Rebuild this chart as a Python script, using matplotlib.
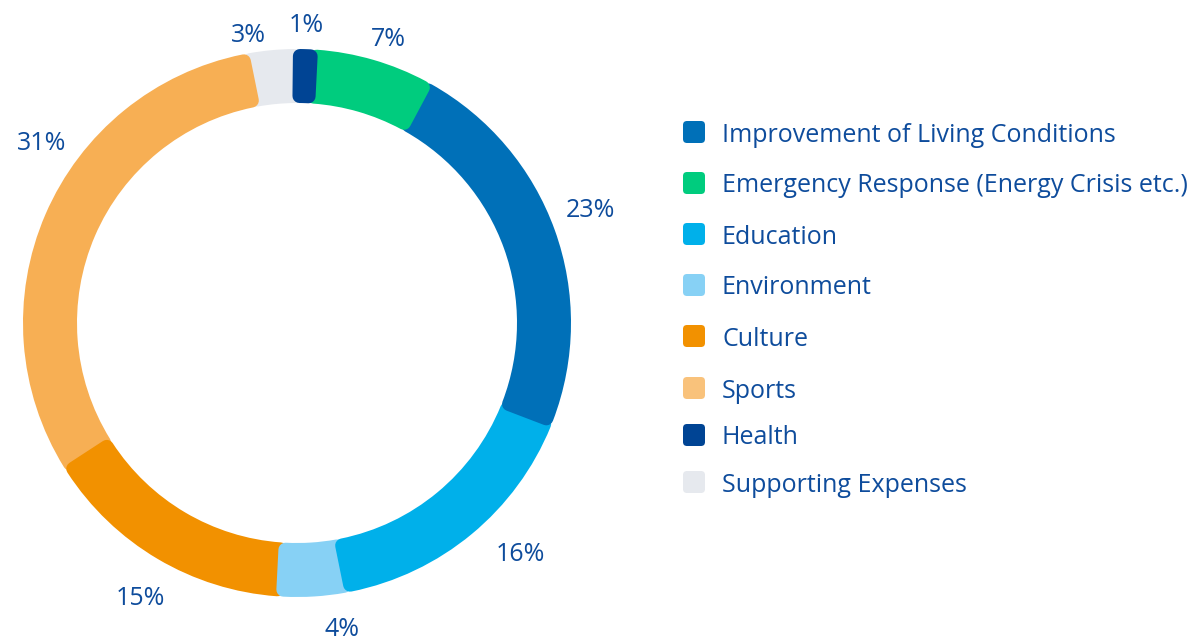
import numpy as np
import matplotlib.pyplot as plt
from matplotlib.patches import FancyBboxPatch

# data, clockwise from 12 o'clock
categories = ["Health", "Emergency Response (Energy Crisis etc.)", "Improvement of Living Conditions",
              "Education", "Environment", "Culture", "Sports", "Supporting Expenses"]
shares = [1, 7, 23, 16, 4, 15, 31, 3]
pct_labels = ["1%", "7%", "23%", "16%", "4%", "15%", "31%", "3%"]
ring_colors = ["#004494", "#00CC7E", "#0070B8", "#00B0EA", "#87D1F5", "#F29100", "#F7AF54", "#E6E9EE"]

legend_order = ["Improvement of Living Conditions", "Emergency Response (Energy Crisis etc.)", "Education",
                "Environment", "Culture", "Sports", "Health", "Supporting Expenses"]
legend_colors = ["#0070B8", "#00CC7E", "#00B0EA", "#87D1F5", "#F29100", "#F9C27B", "#004494", "#E6E9EE"]

TEXT_COLOR = "#0E4C9C"
FONT = ["Open Sans", "DejaVu Sans"]

# layout, in pixels (axes data units == pixels)
W, H = 1199, 640
CX, CY = 297, H - 323
R_OUT, RING_W = 274, 54
CORNER = 7
LABEL_R = [300, 300, 315, 320, 308, 315, 313, 294]
LABEL_NUDGE = [0, -1.6, 1.6, 4.6, 4.8, 0.7, -12, 4.2]   # degrees
LEGEND_Y = [132, 183, 234, 285, 336, 388, 435, 482]      # px from top

plt.rcParams["font.family"] = FONT
fig = plt.figure(figsize=(W / 100, H / 100), dpi=100)
ax = fig.add_axes([0, 0, 1, 1])

wedges, _ = ax.pie(shares, colors=ring_colors, startangle=91, counterclock=False,
                   radius=R_OUT, center=(CX, CY),
                   wedgeprops=dict(width=RING_W, linewidth=2 * CORNER * 0.72, joinstyle="round"))

r_mid = R_OUT - RING_W / 2
d_ang = np.degrees(CORNER / r_mid)
n = len(wedges)
for i, (w, col) in enumerate(zip(wedges, ring_colors)):
    t1, t2 = w.theta1, w.theta2
    w.set_edgecolor(col)
    w.set_radius(R_OUT - CORNER)
    w.set_width(RING_W - 2 * CORNER)
    # shrink core by the corner radius; the round stroke grows it back.
    # clockwise end reaches into the next slice and sits on top of it
    w.set_theta1(t1 - 0.2 * d_ang)
    w.set_theta2(t2 - d_ang)
    w.set_zorder(10 + n - i)

    mid = np.radians((t1 + t2) / 2 - 1 + LABEL_NUDGE[i])
    ax.text(CX + LABEL_R[i] * np.cos(mid), CY + LABEL_R[i] * np.sin(mid) - 2, pct_labels[i],
            ha="center", va="center", fontsize=18, color=TEXT_COLOR, zorder=30)

# legend
LX, SW = 683, 22
for name, col, yt in zip(legend_order, legend_colors, LEGEND_Y):
    y = H - yt
    ax.add_patch(FancyBboxPatch((LX + 4, y - SW / 2 + 4), SW - 8, SW - 8,
                                boxstyle="round,pad=4", fc=col, ec="none", zorder=20))
    ax.text(722, y - 3, name, ha="left", va="center", fontsize=18, color=TEXT_COLOR, zorder=30)

ax.set_xlim(0, W)
ax.set_ylim(0, H)
ax.set_aspect("equal")
ax.axis("off")

fig.savefig("out.png", dpi=100, facecolor="white")
